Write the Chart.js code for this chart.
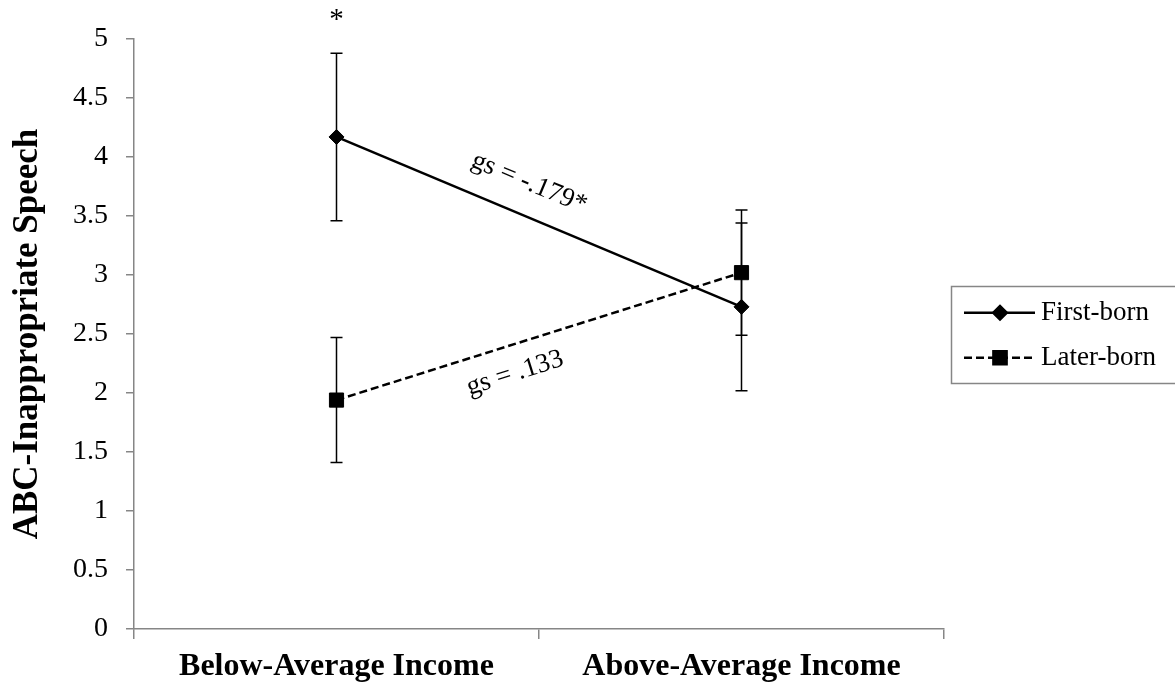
<!DOCTYPE html>
<html>
<head>
<meta charset="utf-8">
<script src="https://cdn.jsdelivr.net/npm/chart.js@4.4.1/dist/chart.umd.min.js"></script>
<style>
  html, body { margin: 0; padding: 0; background: #ffffff; }
  #wrap { width: 1175px; height: 687px; position: relative; }
  canvas { display: block; }
</style>
</head>
<body>
<div id="wrap"><canvas id="chart" width="1175" height="687"></canvas></div>
<script>
// Group means and error-bar half-widths
const categories = ['Below-Average Income', 'Above-Average Income'];
const seriesNames = ['First-born', 'Later-born'];
const firstBorn = [4.17, 2.73];
const laterBorn = [1.94, 3.02];
const firstBornErr = [0.71, 0.71];
const laterBornErr = [0.53, 0.53];
const yTickValues = [0, 0.5, 1, 1.5, 2, 2.5, 3, 3.5, 4, 4.5, 5];
const slopeLabels = ['gs = -.179*', 'gs = .133'];
const starLabels = ['*', ''];   // significance marks per category (first-born)
const yTitle = 'ABC-Inappropriate Speech';

const SERIF = "'Liberation Serif', 'Times New Roman', serif";
const AXIS_GREY = '#868686';

// Vertical error bars with caps, drawn beneath the markers
const errorBars = {
  id: 'errorBars',
  beforeDatasetsDraw(chart) {
    const ctx = chart.ctx, ys = chart.scales.y;
    chart.data.datasets.forEach((ds, di) => {
      const meta = chart.getDatasetMeta(di);
      ds.errors.forEach((e, i) => {
        const px = meta.data[i].x, v = ds.data[i];
        const top = ys.getPixelForValue(v + e), bot = ys.getPixelForValue(v - e);
        ctx.save();
        ctx.strokeStyle = '#000';
        ctx.lineWidth = 1.5;
        ctx.beginPath();
        ctx.moveTo(px, top); ctx.lineTo(px, bot);
        ctx.moveTo(px - 6, top); ctx.lineTo(px + 6, top);
        ctx.moveTo(px - 6, bot); ctx.lineTo(px + 6, bot);
        ctx.stroke();
        ctx.restore();
      });
    });
  }
};

// Slope labels set along each line, plus significance stars above error bars
const annotations = {
  id: 'annotations',
  afterDatasetsDraw(chart) {
    const ctx = chart.ctx, ys = chart.scales.y;
    const place = [
      { t: 0.445, d: -32 },   // above the solid line
      { t: 0.42, d: 28 }      // below the dashed line
    ];
    chart.data.datasets.forEach((ds, di) => {
      const meta = chart.getDatasetMeta(di);
      const p0 = meta.data[0], p1 = meta.data[1];
      const ang = Math.atan2(p1.y - p0.y, p1.x - p0.x);
      const nx = -Math.sin(ang), ny = Math.cos(ang);
      const { t, d } = place[di];
      const cx = p0.x + (p1.x - p0.x) * t + nx * d;
      const cy = p0.y + (p1.y - p0.y) * t + ny * d;
      ctx.save();
      ctx.translate(cx, cy);
      ctx.rotate(ang);
      ctx.fillStyle = '#000';
      ctx.font = '27px ' + SERIF;
      ctx.textAlign = 'center';
      ctx.textBaseline = 'middle';
      ctx.fillText(slopeLabels[di], 0, 0);
      ctx.restore();
    });
    // stars over the first-born error bars
    const meta0 = chart.getDatasetMeta(0);
    const ds0 = chart.data.datasets[0];
    starLabels.forEach((s, i) => {
      if (!s) return;
      const px = meta0.data[i].x;
      const top = ys.getPixelForValue(ds0.data[i] + ds0.errors[i]);
      ctx.save();
      ctx.fillStyle = '#000';
      ctx.font = '29px ' + SERIF;
      ctx.textAlign = 'center';
      ctx.textBaseline = 'alphabetic';
      ctx.fillText(s, px, top - 25);
      ctx.restore();
    });
  }
};

// Boxed legend on the right: line sample with marker, then the series name
const boxLegend = {
  id: 'boxLegend',
  afterDraw(chart) {
    const ctx = chart.ctx;
    const left = 951.5, top = 286.5;
    ctx.save();
    ctx.strokeStyle = AXIS_GREY;
    ctx.lineWidth = 1.5;
    ctx.strokeRect(left, top, 320, 97);
    const rows = [312.7, 357.7];
    chart.data.datasets.forEach((ds, di) => {
      const y = rows[di];
      ctx.save();
      ctx.strokeStyle = '#000';
      ctx.lineWidth = 2.5;
      ctx.setLineDash(ds.borderDash || []);
      ctx.beginPath();
      ctx.moveTo(964, y);
      ctx.lineTo(1035, y);
      ctx.stroke();
      ctx.restore();
      ctx.save();
      ctx.fillStyle = '#000';
      ctx.strokeStyle = '#000';
      Chart.helpers.drawPoint(ctx, {
        pointStyle: ds.pointStyle,
        radius: ds.pointRadius,
        rotation: 0,
        borderWidth: 1
      }, 1000, y);
      ctx.fill();
      ctx.restore();
      ctx.fillStyle = '#000';
      ctx.font = '27px ' + SERIF;
      ctx.textAlign = 'left';
      ctx.textBaseline = 'middle';
      ctx.fillText(ds.label, 1041, y);
    });
    ctx.restore();
  }
};

new Chart(document.getElementById('chart'), {
  type: 'line',
  data: {
    labels: categories,
    datasets: [
      {
        label: seriesNames[0],
        data: firstBorn,
        errors: firstBornErr,
        borderColor: '#000',
        backgroundColor: '#000',
        borderWidth: 2.5,
        pointStyle: 'rectRot',
        pointRadius: 7.5,
        pointBackgroundColor: '#000',
        pointBorderColor: '#000',
        pointBorderWidth: 1,
        tension: 0,
        fill: false
      },
      {
        label: seriesNames[1],
        data: laterBorn,
        errors: laterBornErr,
        borderColor: '#000',
        backgroundColor: '#000',
        borderWidth: 2.5,
        borderDash: [8, 4],
        pointStyle: 'rect',
        pointRadius: 10,
        pointBackgroundColor: '#000',
        pointBorderColor: '#000',
        pointBorderWidth: 1,
        tension: 0,
        fill: false
      }
    ]
  },
  options: {
    responsive: false,
    animation: false,
    devicePixelRatio: 1,
    layout: { padding: { top: 39, right: 231, bottom: 0, left: 0 } },
    plugins: {
      legend: { display: false },
      tooltip: { enabled: false }
    },
    scales: {
      x: {
        type: 'category',
        offset: true,
        grid: {
          offset: true,
          drawOnChartArea: false,
          drawTicks: true,
          tickLength: 10,
          color: AXIS_GREY,
          lineWidth: 1.5
        },
        border: { color: AXIS_GREY, width: 1.5 },
        ticks: {
          color: '#000',
          padding: 9,
          maxRotation: 0,
          autoSkip: false,
          font: { family: SERIF, size: 32, weight: 'bold' }
        },
        afterFit(scale) { scale.height = 58; }
      },
      y: {
        min: 0,
        max: 5,
        afterBuildTicks(scale) { scale.ticks = yTickValues.map(v => ({ value: v })); },
        ticks: {
          color: '#000',
          padding: 18,
          font: { family: SERIF, size: 28 },
          callback: v => String(v)
        },
        grid: {
          drawOnChartArea: false,
          tickLength: 8,
          color: AXIS_GREY,
          lineWidth: 1.5
        },
        border: { color: AXIS_GREY, width: 1.5 },
        title: {
          display: true,
          text: yTitle,
          color: '#000',
          font: { family: SERIF, size: 35, weight: 'bold' },
          padding: { top: 7, bottom: 0 }
        },
        afterFit(scale) { scale.width = 134; }
      }
    }
  },
  plugins: [errorBars, annotations, boxLegend]
});
</script>
</body>
</html>
